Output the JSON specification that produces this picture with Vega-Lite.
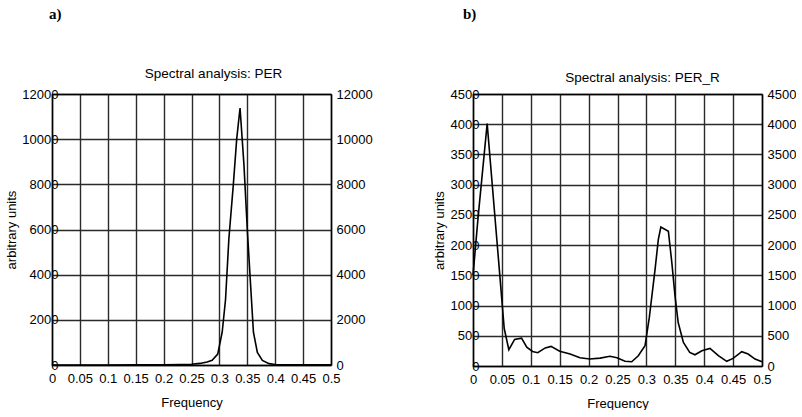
{
  "$schema": "https://vega.github.io/schema/vega-lite/v6.json",
  "padding": {"left": 5, "top": 7, "right": 0, "bottom": 0},
  "background": "white",
  "datasets": {
    "pa": [
      {"f": 0, "v": 0}, {"f": 0.05, "v": 3}, {"f": 0.1, "v": 3}, {"f": 0.15, "v": 5},
      {"f": 0.2, "v": 10}, {"f": 0.23, "v": 20}, {"f": 0.25, "v": 30}, {"f": 0.265, "v": 70},
      {"f": 0.278, "v": 130}, {"f": 0.287, "v": 210}, {"f": 0.297, "v": 480},
      {"f": 0.305, "v": 1450}, {"f": 0.311, "v": 2900}, {"f": 0.317, "v": 5600},
      {"f": 0.325, "v": 8000}, {"f": 0.331, "v": 10000}, {"f": 0.337, "v": 11380},
      {"f": 0.344, "v": 8860}, {"f": 0.35, "v": 6000}, {"f": 0.356, "v": 3500},
      {"f": 0.361, "v": 1450}, {"f": 0.368, "v": 560}, {"f": 0.377, "v": 200},
      {"f": 0.389, "v": 60}, {"f": 0.4, "v": 20}, {"f": 0.45, "v": 8}, {"f": 0.5, "v": 5}
    ],
    "pb": [
      {"f": 0, "v": 1500}, {"f": 0.009, "v": 2480}, {"f": 0.0245, "v": 4010},
      {"f": 0.047, "v": 1430}, {"f": 0.054, "v": 620}, {"f": 0.062, "v": 270},
      {"f": 0.072, "v": 440}, {"f": 0.084, "v": 460}, {"f": 0.093, "v": 310},
      {"f": 0.103, "v": 240}, {"f": 0.112, "v": 220}, {"f": 0.125, "v": 300},
      {"f": 0.135, "v": 325}, {"f": 0.15, "v": 245}, {"f": 0.168, "v": 200},
      {"f": 0.185, "v": 135}, {"f": 0.202, "v": 115}, {"f": 0.22, "v": 130},
      {"f": 0.237, "v": 160}, {"f": 0.249, "v": 135}, {"f": 0.263, "v": 78},
      {"f": 0.2746, "v": 70}, {"f": 0.286, "v": 170}, {"f": 0.2976, "v": 335},
      {"f": 0.305, "v": 800}, {"f": 0.315, "v": 1600}, {"f": 0.3206, "v": 2090},
      {"f": 0.325, "v": 2300}, {"f": 0.338, "v": 2230}, {"f": 0.344, "v": 1710},
      {"f": 0.3495, "v": 1160}, {"f": 0.355, "v": 720}, {"f": 0.364, "v": 390},
      {"f": 0.375, "v": 225}, {"f": 0.384, "v": 186}, {"f": 0.396, "v": 253},
      {"f": 0.41, "v": 290}, {"f": 0.4245, "v": 170}, {"f": 0.439, "v": 77},
      {"f": 0.45, "v": 126}, {"f": 0.465, "v": 236}, {"f": 0.476, "v": 198},
      {"f": 0.488, "v": 115}, {"f": 0.5, "v": 70}
    ]
  },
  "spacing": 60,
  "hconcat": [
    {
      "width": 279,
      "height": 271,
      "title": {"text": "a)", "anchor": "start", "frame": "group", "font": "Liberation Serif", "fontSize": 15, "fontWeight": "bold", "color": "black", "dx": -3, "offset": 44},
      "data": {"name": "pa"},
      "layer": [
        {
          "mark": {"type": "line", "color": "black", "strokeWidth": 1.6},
          "encoding": {
            "x": {"field": "f", "type": "quantitative", "scale": {"domain": [0, 0.5], "nice": false},
              "axis": {"orient": "bottom", "values": [0, 0.05, 0.1, 0.15, 0.2, 0.25, 0.3, 0.35, 0.4, 0.45, 0.5], "format": "~g", "grid": true, "ticks": false, "labelPadding": 7, "title": "Frequency", "titlePadding": 11}},
            "y": {"field": "v", "type": "quantitative", "scale": {"domain": [0, 12000], "nice": false},
              "axis": {"orient": "left", "values": [0, 2000, 4000, 6000, 8000, 10000, 12000], "format": "d", "grid": true, "ticks": false, "labelPadding": -6, "title": "arbitrary units", "titlePadding": 3}}
          }
        },
        {
          "mark": {"type": "line", "opacity": 0},
          "encoding": {
            "x": {"field": "f", "type": "quantitative", "scale": {"domain": [0, 0.5], "nice": false},
              "axis": {"orient": "top", "labels": false, "ticks": false, "grid": false, "title": "Spectral analysis: PER", "titleFontSize": 13.5, "titlePadding": 14, "titleX": 161}},
            "y": {"field": "v", "type": "quantitative", "scale": {"domain": [0, 12000], "nice": false},
              "axis": {"orient": "right", "values": [0, 2000, 4000, 6000, 8000, 10000, 12000], "format": "d", "grid": false, "ticks": false, "labelPadding": 5, "title": null}}
          }
        }
      ],
      "resolve": {"axis": {"x": "independent", "y": "independent"}}
    },
    {
      "width": 289,
      "height": 272,
      "title": {"text": "b)", "anchor": "start", "frame": "group", "font": "Liberation Serif", "fontSize": 15, "fontWeight": "bold", "color": "black", "dx": -10, "offset": 48},
      "data": {"name": "pb"},
      "layer": [
        {
          "mark": {"type": "line", "color": "black", "strokeWidth": 1.6},
          "encoding": {
            "x": {"field": "f", "type": "quantitative", "scale": {"domain": [0, 0.5], "nice": false},
              "axis": {"orient": "bottom", "values": [0, 0.05, 0.1, 0.15, 0.2, 0.25, 0.3, 0.35, 0.4, 0.45, 0.5], "format": "~g", "grid": true, "ticks": false, "labelPadding": 7, "title": "Frequency", "titlePadding": 11}},
            "y": {"field": "v", "type": "quantitative", "scale": {"domain": [0, 4500], "nice": false},
              "axis": {"orient": "left", "values": [0, 500, 1000, 1500, 2000, 2500, 3000, 3500, 4000, 4500], "format": "d", "grid": true, "ticks": false, "labelPadding": -6, "title": "arbitrary units", "titlePadding": 4}}
          }
        },
        {
          "mark": {"type": "line", "opacity": 0},
          "encoding": {
            "x": {"field": "f", "type": "quantitative", "scale": {"domain": [0, 0.5], "nice": false},
              "axis": {"orient": "top", "labels": false, "ticks": false, "grid": false, "title": "Spectral analysis: PER_R", "titleFontSize": 13.5, "titlePadding": 10, "titleX": 169}},
            "y": {"field": "v", "type": "quantitative", "scale": {"domain": [0, 4500], "nice": false},
              "axis": {"orient": "right", "values": [0, 500, 1000, 1500, 2000, 2500, 3000, 3500, 4000, 4500], "format": "d", "grid": false, "ticks": false, "labelPadding": 5, "title": null}}
          }
        }
      ],
      "resolve": {"axis": {"x": "independent", "y": "independent"}}
    }
  ],
  "config": {
    "font": "Liberation Sans",
    "view": {"stroke": null},
    "axis": {
      "labelFont": "Liberation Sans",
      "labelFontSize": 13,
      "labelColor": "black",
      "labelFlush": false,
      "labelOverlap": false,
      "labelBound": false,
      "titleFont": "Liberation Sans",
      "titleFontSize": 13,
      "titleFontWeight": "normal",
      "titleColor": "black",
      "domainColor": "black",
      "domainWidth": 1.5,
      "gridColor": "#2a2a2a",
      "gridWidth": 1.4,
      "gridOpacity": 1
    }
  }
}
